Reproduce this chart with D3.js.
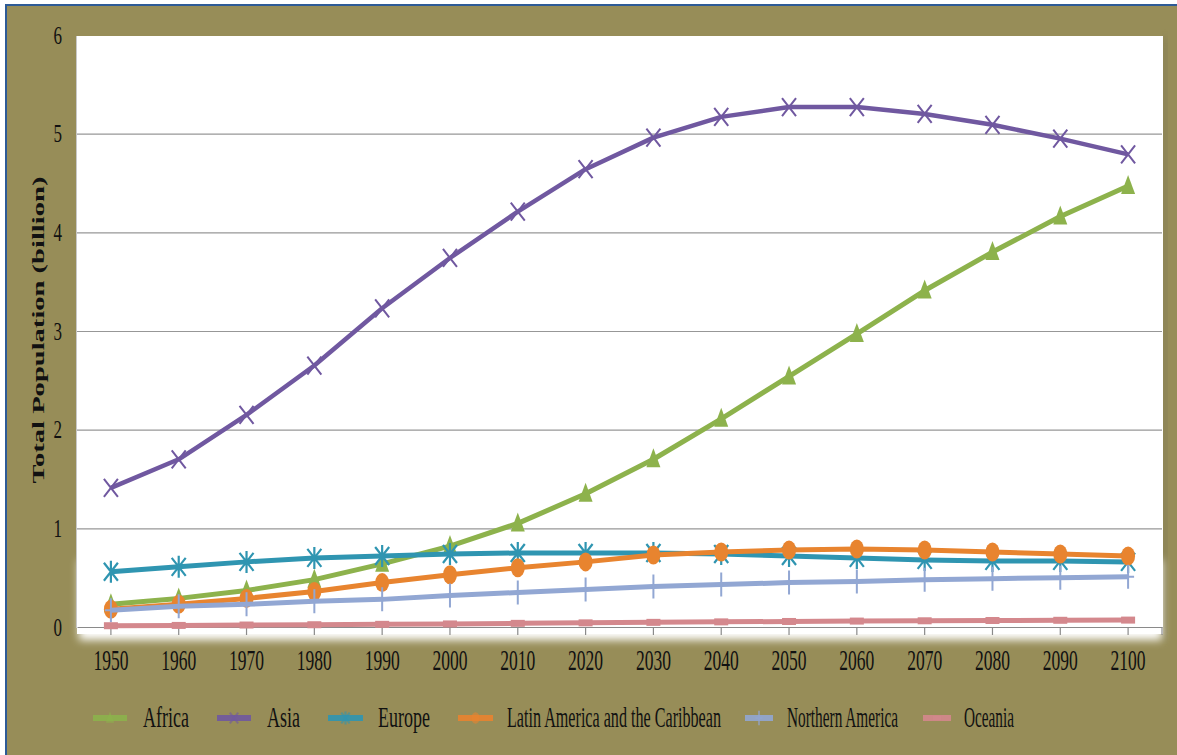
<!DOCTYPE html>
<html>
<head>
<meta charset="utf-8">
<script src="https://cdnjs.cloudflare.com/ajax/libs/d3/7.8.5/d3.min.js"></script>
<style>
  html, body { margin: 0; padding: 0; background: #fff; }
  svg { display: block; }
  text { font-family: "Liberation Serif", "Times New Roman", serif; fill: #111; }
</style>
</head>
<body>
<svg id="chart" width="1177" height="755"></svg>
<script>
// Population by region, 1950-2100 (billions)
const years = [1950,1960,1970,1980,1990,2000,2010,2020,2030,2040,2050,2060,2070,2080,2090,2100];
const africa   = [0.23,0.29,0.37,0.48,0.64,0.82,1.05,1.35,1.70,2.11,2.54,2.97,3.41,3.80,4.16,4.47];
const asia     = [1.41,1.70,2.15,2.65,3.23,3.74,4.21,4.64,4.96,5.17,5.27,5.27,5.20,5.09,4.95,4.79];
const europe   = [0.56,0.61,0.66,0.70,0.72,0.74,0.75,0.75,0.75,0.74,0.72,0.70,0.68,0.67,0.67,0.66];
const latin    = [0.18,0.23,0.29,0.36,0.45,0.53,0.60,0.66,0.73,0.76,0.78,0.79,0.78,0.76,0.74,0.72];
const northAm  = [0.17,0.21,0.23,0.26,0.28,0.32,0.35,0.38,0.41,0.43,0.45,0.46,0.48,0.49,0.50,0.51];
const oceania  = [0.013,0.016,0.020,0.023,0.027,0.031,0.037,0.042,0.047,0.052,0.056,0.060,0.063,0.066,0.068,0.070];
const yTicks   = [0,1,2,3,4,5,6];
const seriesNames = ["Africa","Asia","Europe","Latin America and the Caribbean","Northern America","Oceania"];

const series = [
  { name: seriesNames[0], values: africa,  color: "#8db24c", marker: "triangle", width: 5 },
  { name: seriesNames[1], values: asia,    color: "#7058a0", marker: "x",        width: 4.5 },
  { name: seriesNames[2], values: europe,  color: "#2f95b1", marker: "star",     width: 5 },
  { name: seriesNames[3], values: latin,   color: "#e8842f", marker: "circle",   width: 5 },
  { name: seriesNames[4], values: northAm, color: "#92a7d3", marker: "plus",     width: 5 },
  { name: seriesNames[5], values: oceania, color: "#d4888d", marker: "dash",     width: 5 }
];

const svg = d3.select("#chart");
const W = 1177, H = 755;
const plot = { left: 77, right: 1162, top: 35, bottom: 627 };

// page frame
svg.append("rect").attr("x", 0).attr("y", 0).attr("width", W).attr("height", H).attr("fill", "#fff");
svg.append("rect").attr("x", 6).attr("y", 5).attr("width", W - 6).attr("height", H - 5).attr("fill", "#978d58");
svg.append("line").attr("x1", 5).attr("x2", W).attr("y1", 5).attr("y2", 5)
  .attr("stroke", "#2d5a96").attr("stroke-width", 2);
svg.append("line").attr("x1", 6).attr("x2", 6).attr("y1", 5).attr("y2", H)
  .attr("stroke", "#2d5a96").attr("stroke-width", 2);

const defs = svg.append("defs");
defs.append("filter").attr("id", "soft").attr("x", "-10%").attr("y", "-10%").attr("width", "120%").attr("height", "130%")
  .append("feGaussianBlur").attr("stdDeviation", 4);

// plot panel with soft lower edge and a slight shadow on the right
svg.append("rect").attr("x", plot.right + 1).attr("y", plot.top + 3).attr("width", 4).attr("height", 600)
  .attr("fill", "#7c7757").attr("filter", "url(#soft)").attr("opacity", 0.8);
svg.append("rect").attr("x", plot.left + 2).attr("y", 560).attr("width", plot.right - plot.left - 2).attr("height", 80)
  .attr("fill", "#ffffff").attr("filter", "url(#soft)");
svg.append("rect").attr("x", plot.left).attr("y", plot.top + 1).attr("width", plot.right - plot.left + 1).attr("height", 598)
  .attr("fill", "#ffffff");
svg.append("line").attr("x1", plot.left - 0.5).attr("x2", plot.left - 0.5).attr("y1", plot.top + 1).attr("y2", 628)
  .attr("stroke", "#c8c8c8").attr("stroke-width", 1);

const x = d3.scaleBand().domain(years).range([plot.left, plot.right]);
const cx = d => x(d) + x.bandwidth() / 2;
const y = d3.scaleLinear().domain([0, 6]).range([plot.bottom, plot.top]);

// horizontal gridlines
const grid = svg.append("g").attr("transform", `translate(${plot.left},0)`)
  .call(d3.axisLeft(y).tickValues(yTicks.slice(1, 6)).tickSize(-(plot.right - plot.left)).tickFormat(""));
grid.select(".domain").remove();
grid.selectAll(".tick line").attr("stroke", "#979797").attr("stroke-width", 1.2);

// y axis labels
const yAxis = svg.append("g").attr("transform", `translate(${plot.left},0)`)
  .call(d3.axisLeft(y).tickValues(yTicks).tickSize(0).tickFormat(d3.format("d")));
yAxis.select(".domain").remove();
yAxis.selectAll(".tick text")
  .attr("x", null).attr("dy", null).attr("y", null)
  .attr("text-anchor", "end")
  .attr("transform", "translate(-15,8) scale(1,1.5)")
  .style("font-size", "17px").style("font-family", "Liberation Serif, serif").attr("fill", "#111");

// x axis
const xAxis = svg.append("g").attr("transform", `translate(0,${plot.bottom})`)
  .call(d3.axisBottom(x).tickSize(8).tickSizeOuter(0).tickPadding(0));
xAxis.select(".domain").attr("stroke", "#8a8a8a").attr("stroke-width", 1.2);
xAxis.selectAll(".tick line").attr("stroke", "#8a8a8a").attr("stroke-width", 1.2);
xAxis.append("line").attr("x1", plot.right).attr("x2", plot.right).attr("y1", 0).attr("y2", 8)
  .attr("stroke", "#8a8a8a").attr("stroke-width", 1.2);
xAxis.selectAll(".tick text")
  .attr("y", null).attr("dy", null)
  .attr("transform", "translate(0,43) scale(1,1.65)")
  .style("font-size", "17.5px").style("font-family", "Liberation Serif, serif").attr("fill", "#111");

// y axis title
svg.append("text")
  .attr("transform", "translate(44,330) rotate(-90) scale(1.68,1)")
  .attr("text-anchor", "middle")
  .style("font-size", "17px").style("font-weight", "bold")
  .text("Total Population (billion)");

// marker drawing
function drawMarker(g, type, color, s) {
  s = s || 1;
  if (type === "triangle") {
    g.append("path").attr("d", `M0,${-11*s} L${7*s},${8*s} L${-7*s},${8*s} Z`).attr("fill", color);
  } else if (type === "x") {
    g.append("path").attr("d", `M${-7*s},${-9*s} L${7*s},${9*s} M${7*s},${-9*s} L${-7*s},${9*s}`)
      .attr("stroke", color).attr("stroke-width", 2).attr("fill", "none");
  } else if (type === "star") {
    g.append("path").attr("d", `M${-7*s},${-9*s} L${7*s},${9*s} M${7*s},${-9*s} L${-7*s},${9*s} M0,${-11*s} L0,${11*s}`)
      .attr("stroke", color).attr("stroke-width", 2.2).attr("fill", "none");
  } else if (type === "circle") {
    g.append("ellipse").attr("rx", 7 * s).attr("ry", 9.5 * s).attr("fill", color);
  } else if (type === "plus") {
    g.append("path").attr("d", `M0,${-12*s} L0,${12*s} M${-6*s},0 L${6*s},0`)
      .attr("stroke", color).attr("stroke-width", 2).attr("fill", "none");
  } else if (type === "dash") {
    g.append("rect").attr("x", -7 * s).attr("y", -3.5 * s).attr("width", 14 * s).attr("height", 7 * s).attr("fill", color);
  }
}

const line = d3.line().x((d, i) => cx(years[i])).y(d => y(d));

series.forEach(s => {
  const g = svg.append("g");
  g.append("path").datum(s.values).attr("d", line)
    .attr("fill", "none").attr("stroke", s.color).attr("stroke-width", s.width)
    .attr("stroke-linejoin", "round");
  s.values.forEach((v, i) => {
    const m = g.append("g").attr("transform", `translate(${cx(years[i])},${y(v)})`);
    drawMarker(m, s.marker, s.color, 1);
  });
});

// legend
const legendItems = [
  { x1: 93,  x2: 127, tx: 143, tw: 46 },
  { x1: 217, x2: 251, tx: 267, tw: 33 },
  { x1: 328, x2: 363, tx: 378, tw: 52 },
  { x1: 458, x2: 493, tx: 507, tw: 214 },
  { x1: 745, x2: 773, tx: 787, tw: 111 },
  { x1: 923, x2: 951, tx: 964, tw: 50 }
];
const legend = svg.append("g");
series.forEach((s, i) => {
  const it = legendItems[i];
  legend.append("line").attr("x1", it.x1).attr("x2", it.x2).attr("y1", 718).attr("y2", 718)
    .attr("stroke", s.color).attr("stroke-width", 6).attr("opacity", 0.9);
  const m = legend.append("g").attr("transform", `translate(${(it.x1 + it.x2) / 2},718)`).attr("opacity", 0.6);
  drawMarker(m, s.marker, s.color, 0.6);
  legend.append("text")
    .attr("transform", `translate(${it.tx},727) scale(1,1.68)`)
    .attr("textLength", it.tw).attr("lengthAdjust", "spacingAndGlyphs")
    .style("font-size", "17.5px")
    .text(s.name);
});
</script>
</body>
</html>
